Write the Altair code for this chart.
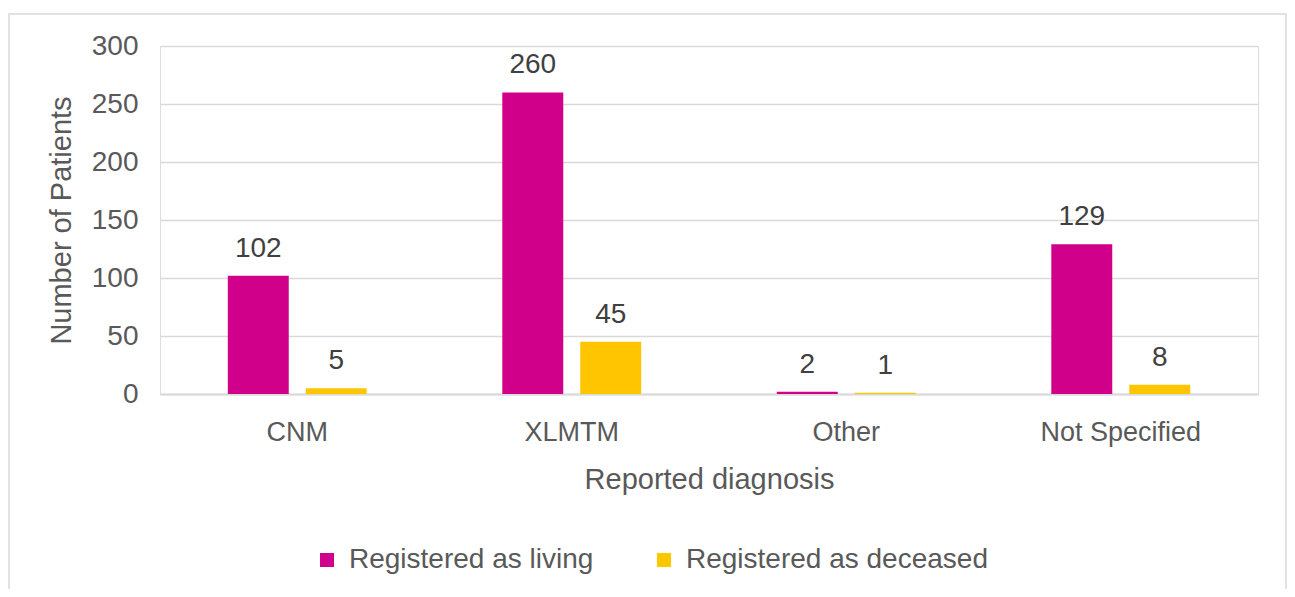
import altair as alt
import pandas as pd

categories = ["CNM", "XLMTM", "Other", "Not Specified"]
series_names = ["Registered as living", "Registered as deceased"]
living = [102, 260, 2, 129]
deceased = [5, 45, 1, 8]
y_ticks = [0, 50, 100, 150, 200, 250, 300]
colors = ["#D1008A", "#FFC600"]

rows = []
for c, v in zip(categories, living):
    rows.append({"diagnosis": c, "status": series_names[0], "count": v})
for c, v in zip(categories, deceased):
    rows.append({"diagnosis": c, "status": series_names[1], "count": v})
df = pd.DataFrame(rows)

FONT = "Liberation Sans"
TXT = "#595959"

base = alt.Chart(df).encode(
    x=alt.X(
        "diagnosis:N",
        sort=categories,
        scale=alt.Scale(paddingInner=0.494, paddingOuter=0.247),
        axis=alt.Axis(
            title="Reported diagnosis",
            labelAngle=0,
            labelFontSize=27,
            labelColor=TXT,
            labelFont=FONT,
            labelPadding=25,
            ticks=False,
            domainColor="#d9d9d9",
            domainWidth=2,
            titleFontSize=29,
            titleFontWeight="normal",
            titleColor=TXT,
            titleFont=FONT,
            titleY=85,
            titleBaseline="middle",
        ),
    ),
    xOffset=alt.XOffset(
        "status:N",
        sort=series_names,
        scale=alt.Scale(paddingInner=0.218, paddingOuter=0),
    ),
)

bars = base.mark_bar().encode(
    y=alt.Y(
        "count:Q",
        scale=alt.Scale(domain=[0, 300]),
        axis=alt.Axis(
            title="Number of Patients",
            values=y_ticks,
            labelFontSize=28,
            labelColor=TXT,
            labelFont=FONT,
            labelPadding=22,
            ticks=False,
            domain=False,
            gridColor="#d9d9d9",
            gridWidth=1.5,
            titleFontSize=29,
            titleFontWeight="normal",
            titleColor=TXT,
            titleFont=FONT,
            titleX=-99,
            titleY=174,
            titleAngle=270,
            titleAlign="center",
            titleBaseline="middle",
        ),
    ),
    color=alt.Color(
        "status:N",
        sort=series_names,
        scale=alt.Scale(domain=series_names, range=colors),
        legend=alt.Legend(
            title=None,
            orient="none",
            direction="horizontal",
            legendX=153,
            legendY=500,
            symbolType="square",
            symbolSize=196,
            symbolStrokeWidth=0,
            labelFontSize=28,
            labelColor=TXT,
            labelFont=FONT,
            labelOffset=8,
            labelLimit=0,
            columnPadding=56,
        ),
    ),
)

labels = base.mark_text(
    baseline="alphabetic", dy=-19, fontSize=28, font=FONT, color="#404040"
).encode(
    y=alt.Y("count:Q"),
    text=alt.Text("count:Q"),
)

border = alt.Chart(pd.DataFrame({"a": [0]})).mark_rect(
    fill=None, stroke="#d9d9d9", strokeWidth=1.5
).encode(
    x=alt.value(-151), x2=alt.value(1126), y=alt.value(-32), y2=alt.value(620)
)

chart = alt.layer(border, bars, labels).properties(
    width=1098,
    height=348,
    autosize=alt.AutoSizeParams(type="none"),
    padding={"left": 152, "top": 38, "right": 29, "bottom": 195},
).configure_view(stroke=None).configure(background="white")

chart.save("out.html", embed_options={"renderer": "svg", "actions": False})
